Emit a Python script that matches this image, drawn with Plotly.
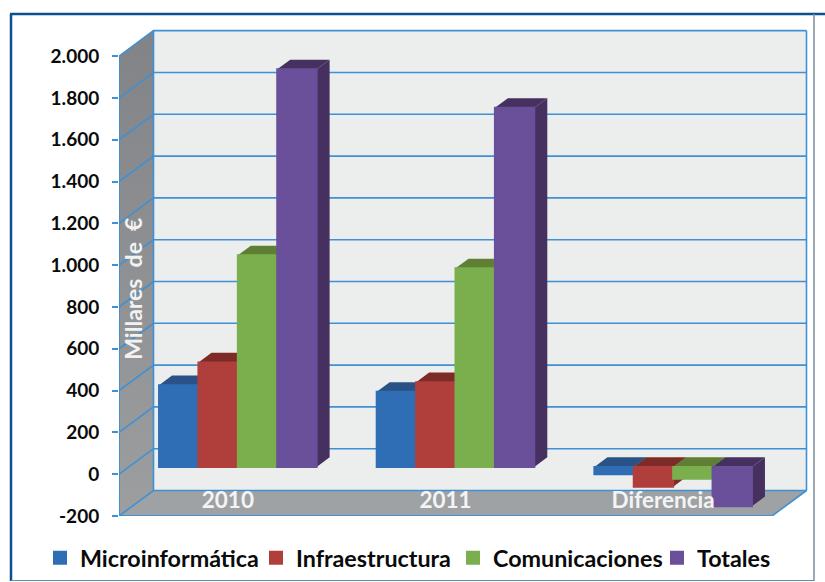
import plotly.graph_objects as go

categories = ["2010", "2011", "Diferencia"]
series_names = ["Microinformática", "Infraestructura", "Comunicaciones", "Totales"]
microinformatica = [391, 359, -35]
infraestructura = [500, 405, -95]
comunicaciones = [1012, 950, -57]
totales = [1902, 1718, -188]
y_ticks = [-200, 0, 200, 400, 600, 800, 1000, 1200, 1400, 1600, 1800, 2000]
y_tick_labels = ["-200", "0", "200", "400", "600", "800", "1.000", "1.200", "1.400", "1.600", "1.800", "2.000"]

values = [microinformatica, infraestructura, comunicaciones, totales]
front = ["#2F6EB5", "#B03F3C", "#7BAF4E", "#6A4F9B"]
shade = ["#2A5286", "#7D2B27", "#5F7F35", "#45305F"]

FONT = "Lato"
LINE = "#3F90D4"
PX_X = 217.67          # pixels per category
PX_Y = 0.209           # pixels per value unit
L, B = 119, 66
XMAX, YMIN, YMAX = 3.17, -200, 2130
W = XMAX * PX_X
H = (YMAX - YMIN) * PX_Y
T = 582 - B - H
R = 825 - L - W

WALL_DX, WALL_DY = 34.5 / PX_X, 25.5 / PX_Y
BAR_SHIFT_X, BAR_SHIFT_Y = 10 / PX_X, 35
BAR_DX, BAR_DY = 13 / PX_X, 46
BAR_W = 39.4 / PX_X


def px(x):
    return (x - L) / W


def py(y):
    return 1 - (y - T) / H


fig = go.Figure()


def poly(xs, ys, color, **kw):
    fig.add_trace(go.Scatter(x=xs + xs[:1], y=ys + ys[:1], mode="lines", fill="toself",
                             fillcolor=color, line=dict(width=0, color=color),
                             showlegend=False, hoverinfo="skip", **kw))


ymin, ytop = y_ticks[0], y_ticks[-1]
# back wall, side wall, floor
poly([WALL_DX, 3 + WALL_DX, 3 + WALL_DX, WALL_DX],
     [ymin + WALL_DY, ymin + WALL_DY, ytop + WALL_DY, ytop + WALL_DY], "#ECEEEE")
fig.add_trace(go.Scatter(x=[0, WALL_DX, WALL_DX, 0, 0],
                         y=[ymin, ymin + WALL_DY, ytop + WALL_DY, ytop, ymin],
                         mode="lines", fill="toself", line=dict(width=0),
                         fillgradient=dict(type="vertical",
                                           colorscale=[[0, "#9C9EA0"], [1, "#818386"]]),
                         showlegend=False, hoverinfo="skip"))
poly([0, 3, 3 + WALL_DX, WALL_DX], [ymin, ymin, ymin + WALL_DY, ymin + WALL_DY], "#9FA2A4")

# gridlines running along side wall and back wall
gx, gy = [], []
for t in y_ticks:
    gx += [0, WALL_DX, 3 + WALL_DX, None]
    gy += [t, t + WALL_DY, t + WALL_DY, None]
gx += [WALL_DX, WALL_DX, None, 3 + WALL_DX, 3 + WALL_DX, None, 3, 3 + WALL_DX]
gy += [ymin + WALL_DY, ytop + WALL_DY, None, ymin + WALL_DY, ytop + WALL_DY, None, ymin, ymin + WALL_DY]
fig.add_trace(go.Scatter(x=gx, y=gy, mode="lines", line=dict(color=LINE, width=1.6),
                         showlegend=False, hoverinfo="skip"))

# axis lines along the front edge
fig.add_trace(go.Scatter(x=[0, 0, 3], y=[ytop, ymin, ymin], mode="lines",
                         line=dict(color=LINE, width=1.8), showlegend=False, hoverinfo="skip"))

# depth faces of the bars, painted left to right (behind the front faces)
for c in range(len(categories)):
    for s in range(len(series_names)):
        v = values[s][c]
        x0 = c + 0.5 + BAR_SHIFT_X + (s - 2) * BAR_W
        x1 = x0 + BAR_W
        hi = max(v, 0) + BAR_SHIFT_Y
        lo = min(v, 0) + BAR_SHIFT_Y
        poly([x1, x1 + BAR_DX, x1 + BAR_DX, x1], [lo, lo + BAR_DY, hi + BAR_DY, hi], shade[s])
        poly([x0, x1, x1 + BAR_DX, x0 + BAR_DX], [hi, hi, hi + BAR_DY, hi + BAR_DY], shade[s])

# front faces, on an overlaying pair of axes so they cover every depth face
cx = [c + 0.5 + BAR_SHIFT_X for c in range(len(categories))]
legend_ids = ["legend", "legend2", "legend3", "legend4"]
for s, name in enumerate(series_names):
    fig.add_trace(go.Bar(x=cx, y=values[s], base=BAR_SHIFT_Y, name=name, xaxis="x2", yaxis="y2",
                         legend=legend_ids[s],
                         marker=dict(color=front[s], line=dict(color=front[s], width=2)),
                         hoverinfo="skip"))

frame = [
    (10, 14, 825, 14, "#0A4F8E", 2.5),
    (11, 14, 11, 581, "#0A4F8E", 2.5),
    (814, 14, 814, 581, "#7B8D9C", 1.5),
    (11, 580.5, 814, 580.5, "#5F8FA8", 1.2),
]
shapes = [dict(type="line", xref="paper", yref="paper", x0=px(a), y0=py(b), x1=px(c), y1=py(d),
               line=dict(color=col, width=w)) for a, b, c, d, col, w in frame]


def legend_at(x):
    return dict(orientation="h", x=px(x), y=py(558), xanchor="left", yanchor="middle",
                font=dict(family=FONT, size=23.3, color="#0A0A0A", weight="bold"),
                itemwidth=30, bgcolor="rgba(0,0,0,0)")


fig.update_layout(
    width=825, height=582, autosize=False,
    margin=dict(l=L, r=R, t=T, b=B, pad=0, autoexpand=False),
    paper_bgcolor="white", plot_bgcolor="rgba(0,0,0,0)",
    barmode="group", bargap=1 - 4 * BAR_W, bargroupgap=0,
    font=dict(family=FONT, color="#0A0A0A"),
    shapes=shapes,
    xaxis=dict(range=[0, XMAX], showticklabels=False, ticks="", showgrid=False, zeroline=False,
               showline=False),
    yaxis=dict(range=[YMIN, YMAX], tickmode="array", tickvals=y_ticks, ticktext=y_tick_labels,
               ticks="outside", ticklen=6, tickwidth=1.6, tickcolor=LINE, showgrid=False,
               zeroline=False, ticklabelstandoff=9,
               tickfont=dict(family=FONT, size=19, color="#0A0A0A", weight="bold"),
               showline=False),
    xaxis2=dict(range=[0, XMAX], overlaying="x", tickmode="array", tickvals=[0.5, 1.5, 2.5],
                ticktext=categories, ticks="", ticklabelposition="inside", ticklabelstandoff=1,
                showgrid=False, zeroline=False, showline=False, side="bottom",
                tickfont=dict(family=FONT, size=22.5, color="#F4F4F4", weight="bold")),
    yaxis2=dict(range=[YMIN, YMAX], overlaying="y", visible=False),
    legend=legend_at(40),
    legend2=legend_at(256),
    legend3=legend_at(453),
    legend4=legend_at(657),
    annotations=[dict(text="Millares\u00a0\u00a0de\u00a0\u00a0€", textangle=-90, x=14.5 / PX_X, y=885,
                      xref="x", yref="y", showarrow=False,
                      font=dict(family=FONT, size=23, color="#F2F2F2", weight="bold"))],
)

fig.write_html("out.html", post_script="document.body.style.margin='0';",
               config=dict(displayModeBar=False))
